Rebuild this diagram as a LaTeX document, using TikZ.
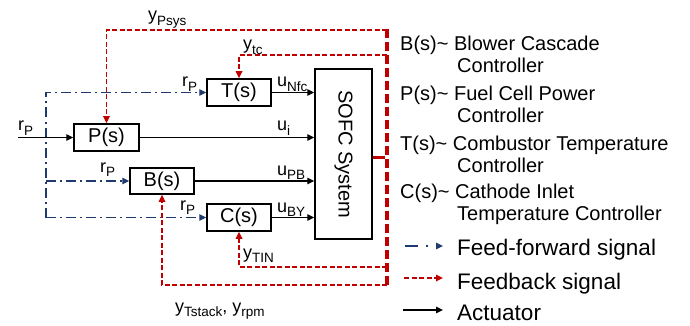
\documentclass[tikz,border=0pt]{standalone}
\usepackage{fontspec}
\setmainfont{Liberation Sans}
\usetikzlibrary{arrows.meta,positioning}
\definecolor{fbred}{HTML}{C00000}
\definecolor{ffblue}{HTML}{1F3A6E}
\newcommand{\sigl}[2]{#1\raisebox{-.25em}{\fontsize{13.5}{14}\selectfont #2}}
\tikzset{blk/.style={draw,line width=1.5pt,minimum width=64pt,minimum height=27pt,
  inner sep=0pt,font=\fontsize{20}{22}\selectfont},
  tip/.style={-{Triangle[length=7pt,width=6.5pt]}},
  act/.style={tip,line width=1.4pt},
  ffwd/.style={draw=ffblue,line width=1.4pt,dash pattern=on 10pt off 4pt on 2pt off 4pt},
  fbk/.style={draw=fbred,line width=1.6pt,dash pattern=on 5pt off 2.5pt},
  bus/.style={draw=fbred,line width=3.5pt,dash pattern=on 9pt off 4pt},
  lbl/.style={anchor=base west,inner sep=0pt,font=\fontsize{18}{20}\selectfont},
  key/.style={anchor=north west,inner sep=0pt,align=left,font=\fontsize{20}{22}\selectfont},
  keybig/.style={anchor=base west,inner sep=0pt,font=\fontsize{22.5}{25}\selectfont}}

\begin{document}
\begin{tikzpicture}[x=1pt,y=-1pt]
\useasboundingbox (0,0) rectangle (690,326);
% controller blocks and plant
\node[blk] (T) at (239,92.5) {T(s)};
\node[blk,minimum width=65pt] (P) at (106.5,137.5) {P(s)};
\node[blk,minimum height=26pt] (B) at (162,181) {B(s)};
\node[blk] (C) at (239,217.5) {C(s)};
\node[blk,minimum width=57pt,minimum height=170pt] (sofc) at (343.5,154) {};
\node[rotate=-90,font=\fontsize{20}{22}\selectfont] (sofctxt) at (sofc.center) {SOFC System};
% feed-forward
\coordinate (ffx) at (46,92.5);
\draw[ffwd,tip] (ffx |- C.west) -- (ffx) -- (T.west);
\draw[ffwd,tip] (ffx |- B.west) -- (B.west);
\draw[ffwd,tip] (ffx |- C.west) -- (C.west);
% actuators
\coordinate (rin) at (18,137.5);
\draw[act] (rin) -- (P.west);
\draw[act] (T.east) -- (T.east -| sofc.west);
\draw[act] (P.east) -- (P.east -| sofc.west);
\draw[act] (B.east) -- (B.east -| sofc.west);
\draw[act] (C.east) -- (C.east -| sofc.west);
% feedback
\coordinate (bustop) at (387,30);
\coordinate (busbot) at (387,285);
\coordinate (tctap) at (387,55);
\coordinate (tintap) at (387,267);
\coordinate (tabend) at (387,157);
\draw[fbk,tip] (bustop) -| (P.north);
\draw[fbk,tip] (tctap) -| (T.north);
\draw[fbk,tip] (tintap) -| (C.south);
\draw[fbk,tip] (busbot) -| (B.south);
\draw[bus] ([yshift=0.8pt]bustop) -- ([yshift=-0.8pt]busbot);
\draw[draw=fbred,line width=3pt] (tabend -| sofc.east) -- ([xshift=-2pt]tabend);
% signal labels
\node[lbl] (lrin) at (18,131) {\sigl{r}{P}};
\node[lbl] (lrT) at (182,87) {\sigl{r}{P}};
\node[lbl] (lrB) at (100,172) {\sigl{r}{P}};
\node[lbl] (lrC) at (180,210) {\sigl{r}{P}};
\node[lbl] (lunfc) at (277,87) {\sigl{u}{Nfc}};
\node[lbl] (lui) at (277,131) {\sigl{u}{i}};
\node[lbl] (lupb) at (277,175) {\sigl{u}{PB}};
\node[lbl] (luby) at (277,212) {\sigl{u}{BY}};
\node[lbl] (lyp) at (148,21) {\sigl{y}{Psys}};
\node[lbl] (lytc) at (243,50) {\sigl{y}{tc}};
\node[lbl] (lytin) at (243,258) {\sigl{y}{TIN}};
\node[lbl] (lyts) at (175,312) {\sigl{y}{Tstack}, \sigl{y}{rpm}};
% legend
\node[key] (kB) at (400,36) {B(s)\textasciitilde{} Blower Cascade\\\hspace*{57pt}Controller};
\node[key] (kP) at (400,86) {P(s)\textasciitilde{} Fuel Cell Power\\\hspace*{57pt}Controller};
\node[key] (kT) at (400,136) {T(s)\textasciitilde{} Combustor Temperature\\\hspace*{57pt}Controller};
\node[key] (kC) at (400,184) {C(s)\textasciitilde{} Cathode Inlet\\\hspace*{57pt}Temperature Controller};
\coordinate (kffa) at (405,246); \coordinate (kffb) at (443,246);
\coordinate (kfba) at (404,278); \coordinate (kfbb) at (443,278);
\coordinate (kaca) at (403,310); \coordinate (kacb) at (443,310);
\draw[ffwd,tip,dash pattern=on 13pt off 8pt on 2pt off 20pt] (kffa) -- (kffb);
\draw[fbk,tip] (kfba) -- (kfbb);
\draw[act] (kaca) -- (kacb);
\node[keybig] (kfftxt) at (457,255) {Feed-forward signal};
\node[keybig] (kfbtxt) at (457,289) {Feedback signal};
\node[keybig] (kactxt) at (457,320) {Actuator};
\end{tikzpicture}
\end{document}
